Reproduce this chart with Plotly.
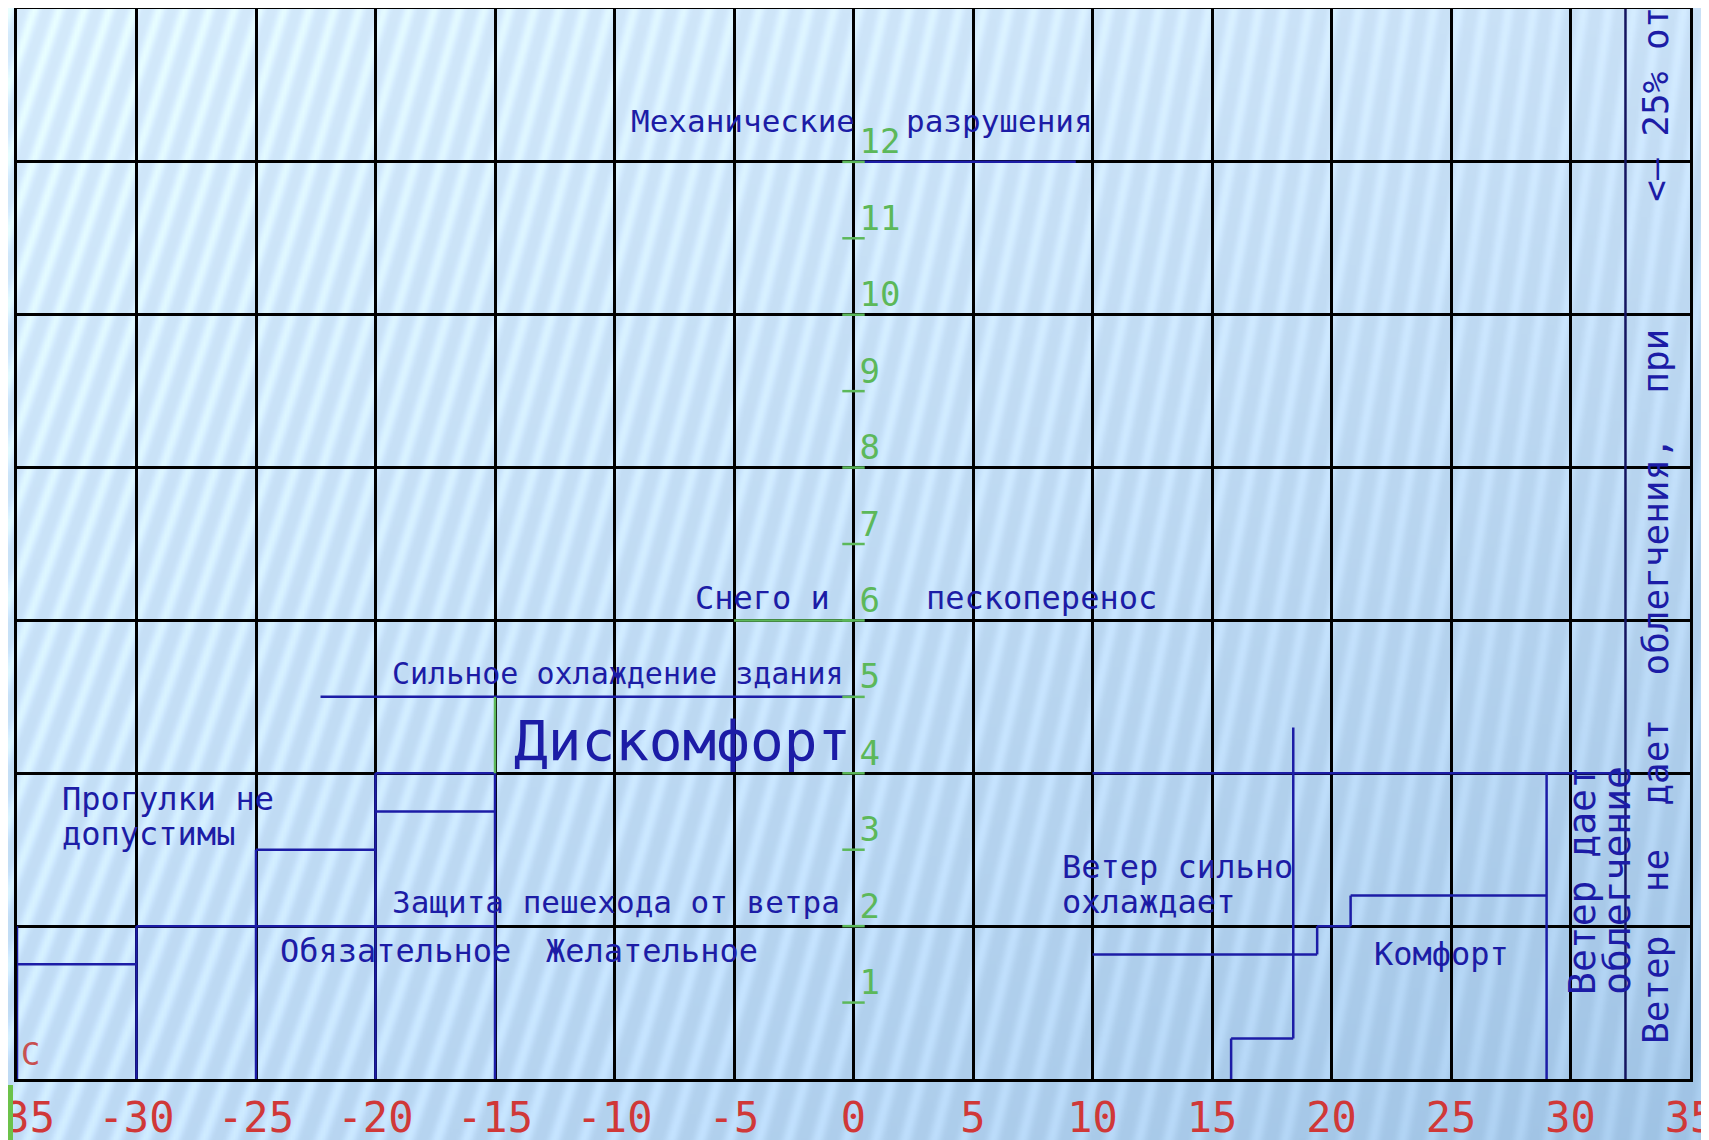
import base64
import struct
import zlib

import numpy as np
import plotly.graph_objects as go

# ---------------- data ----------------
x_ticks = [-35, -30, -25, -20, -15, -10, -5, 0, 5, 10, 15, 20, 25, 30, 35]
x_tick_labels = [str(v) for v in x_ticks]
y_ticks = [1, 2, 3, 4, 5, 6, 7, 8, 9, 10, 11, 12]
y_tick_labels = [str(v) for v in y_ticks]

# zone boundaries (x0, y0, x1, y1) in chart units: wind speed (y, m/s) vs temperature (x, °C)
blue_segments = [
    (-35, 0, -35, 2), (-35, 1.5, -30, 1.5),
    (-30, 0, -30, 2), (-30, 2, -15, 2),
    (-25, 0, -25, 3), (-25, 3, -20, 3),
    (-20, 0, -20, 4), (-20, 3.5, -15, 3.5), (-20, 4, -15, 4),
    (-15, 0, -15, 4),
    (-22.3, 5, 0, 5),
    (0, 12, 9.3, 12),
    (15.8, 0, 15.8, 0.53), (15.8, 0.53, 18.4, 0.53), (18.4, 0.53, 18.4, 4.6),
    (10, 1.63, 19.4, 1.63), (19.4, 1.63, 19.4, 2), (19.4, 2, 20.8, 2),
    (20.8, 2, 20.8, 2.4), (20.8, 2.4, 29, 2.4),
    (29, 0, 29, 4), (10, 4, 32.3, 4),
]
green_segments = [(-15, 4, -15, 5), (-5, 6, 0, 6)]
navy_segments = [(32.3, 0, 32.3, 14)]

# zone labels: (text, x_left, y, size)
zone_labels = [
    ("Механические", -9.4, 12.54, 31),
    ("разрушения", 2.1, 12.54, 31),
    ("Снего и", -6.7, 6.3, 32),
    ("пескоперенос", 2.95, 6.3, 32),
    ("Сильное охлаждение здания", -19.4, 5.31, 30),
    ("Дискомфорт", -14.3, 4.43, 56),
    ("Прогулки не", -33.2, 3.67, 32),
    ("допустимы", -33.2, 3.2, 32),
    ("Защита пешехода от ветра", -19.4, 2.31, 31),
    ("Обязательное", -24.1, 1.67, 32),
    ("Желательное", -12.95, 1.67, 32),
    ("Ветер сильно", 8.64, 2.77, 32),
    ("охлаждает", 8.64, 2.31, 32),
    ("Комфорт", 21.7, 1.63, 32),
]
# vertical labels: (text, x, y_bottom, size)
vertical_labels = [
    ("Ветер дает", 30.45, 1.07, 38),
    ("облегчение", 31.95, 1.07, 38),
    ("Ветер  не  дает  облегчения,  при", 33.55, 0.43, 36),
    ("<– 25% от", 33.55, 11.45, 36),
]

BLUE = "#1c1ca6"
GREEN = "#5cb85a"
RED = "#d03838"
FONT = "DejaVu Sans Mono"

# the page body has an 8 px offset; margins compensate for it
W, H = 1709, 1140
ML, MR, MT, MB = 9, 27, 1, 69
PW, PH = W - ML - MR, H - MT - MB


# ---------------- background picture (decoration) ----------------
def make_png(arr):
    h, w, _ = arr.shape
    raw = b"".join(b"\x00" + arr[i].tobytes() for i in range(h))

    def chunk(t, d):
        c = struct.pack(">I", len(d)) + t + d
        return c + struct.pack(">I", zlib.crc32(t + d) & 0xFFFFFFFF)

    return (b"\x89PNG\r\n\x1a\n"
            + chunk(b"IHDR", struct.pack(">IIBBBBB", w, h, 8, 2, 0, 0, 0))
            + chunk(b"IDAT", zlib.compress(raw, 9))
            + chunk(b"IEND", b""))


bw, bh = 570, 380
yy, xx = np.mgrid[0:bh, 0:bw].astype(float)
u = xx / (bw - 1)
v = yy / (bh - 1)
tl = np.array([212, 234, 251.0])
tr = np.array([200, 224, 246.0])
bl = np.array([190, 218, 244.0])
br = np.array([158, 194, 228.0])
base = (tl * ((1 - u) * (1 - v))[..., None] + tr * (u * (1 - v))[..., None]
        + bl * ((1 - u) * v)[..., None] + br * (u * v)[..., None])
X = xx * 3.0
Y = yy * 3.0
k = 0.34 - 0.22 * u
phase = (X + k * Y) / 25.0
stripe = (0.5 + 0.5 * np.cos(2 * np.pi * phase)) ** 2
amp = 22 - 9 * u
img = base + (stripe * amp)[..., None]
img = np.clip(img, 0, 255).astype(np.uint8)
img = np.ascontiguousarray(img)
bg_src = "data:image/png;base64," + base64.b64encode(make_png(img)).decode()


def seg_xy(segs):
    xs, ys = [], []
    for x0, y0, x1, y1 in segs:
        xs += [x0, x1, None]
        ys += [y0, y1, None]
    return xs, ys


fig = go.Figure()

bx, by = seg_xy(blue_segments)
fig.add_trace(go.Scatter(x=bx, y=by, mode="lines", line=dict(color=BLUE, width=2.5),
                         hoverinfo="skip", showlegend=False))
nx, ny = seg_xy(navy_segments)
fig.add_trace(go.Scatter(x=nx, y=ny, mode="lines", line=dict(color="#151560", width=2.5),
                         hoverinfo="skip", showlegend=False))
gx, gy = seg_xy(green_segments)
fig.add_trace(go.Scatter(x=gx, y=gy, mode="lines", line=dict(color=GREEN, width=2.5),
                         hoverinfo="skip", showlegend=False))

# green y ticks on the x = 0 axis
fig.add_trace(go.Scatter(
    x=[0] * len(y_ticks), y=y_ticks, mode="markers",
    marker=dict(symbol="line-ew", size=16, line=dict(color=GREEN, width=2.5)),
    hoverinfo="skip", showlegend=False))
fig.add_trace(go.Scatter(
    x=[0.25] * len(y_ticks), y=y_ticks, mode="text", text=y_tick_labels,
    textposition="top right", textfont=dict(color=GREEN, size=34, family=FONT),
    hoverinfo="skip", showlegend=False))

annotations = []
for text, x, y, size in zone_labels:
    annotations.append(dict(x=x, y=y, xref="x", yref="y", text=text, showarrow=False,
                            xanchor="left", yanchor="middle",
                            font=dict(color=BLUE, size=size, family=FONT)))
for text, x, y, size in vertical_labels:
    annotations.append(dict(x=x, y=y, xref="x", yref="y", text=text, showarrow=False,
                            textangle=-90, xanchor="center", yanchor="bottom",
                            font=dict(color=BLUE, size=size, family=FONT)))
annotations.append(dict(x=-34.9, y=0.05, xref="x", yref="y", text="С", showarrow=False,
                        xanchor="left", yanchor="bottom",
                        font=dict(color="#c85050", size=32, family=FONT)))

fig.update_layout(
    width=W, height=H,
    margin=dict(l=ML, r=MR, t=MT, b=MB, pad=0, autoexpand=False),
    paper_bgcolor="#c4def3",
    plot_bgcolor="rgba(0,0,0,0)",
    showlegend=False,
    annotations=annotations,
    images=[dict(source=bg_src, xref="paper", yref="paper",
                 x=-ML / PW, y=1 + MT / PH, sizex=W / PW, sizey=H / PH,
                 xanchor="left", yanchor="top", sizing="stretch", layer="below")],
    shapes=[dict(type="rect", xref="paper", yref="paper",
                 x0=-ML / PW, x1=(5 - ML) / PW, y0=-61 / PH, y1=-6 / PH,
                 fillcolor="#6cc24a", line=dict(width=0), layer="above")],
)
fig.update_xaxes(range=[-35, 35], tickvals=x_ticks, ticktext=x_tick_labels,
                 showgrid=True, gridcolor="black", gridwidth=2.5, zeroline=False,
                 showline=True, mirror=True, linecolor="black", linewidth=2.5,
                 ticks="", ticklabeloverflow="allow", automargin=False,
                 tickfont=dict(color=RED, size=42, family=FONT))
fig.update_yaxes(range=[0, 14], dtick=2, tick0=0, showticklabels=False, automargin=False,
                 showgrid=True, gridcolor="black", gridwidth=2.5, zeroline=False,
                 showline=True, mirror=True, linecolor="black", linewidth=2.5, ticks="")

fig.write_html("out.html", config={"displayModeBar": False})
